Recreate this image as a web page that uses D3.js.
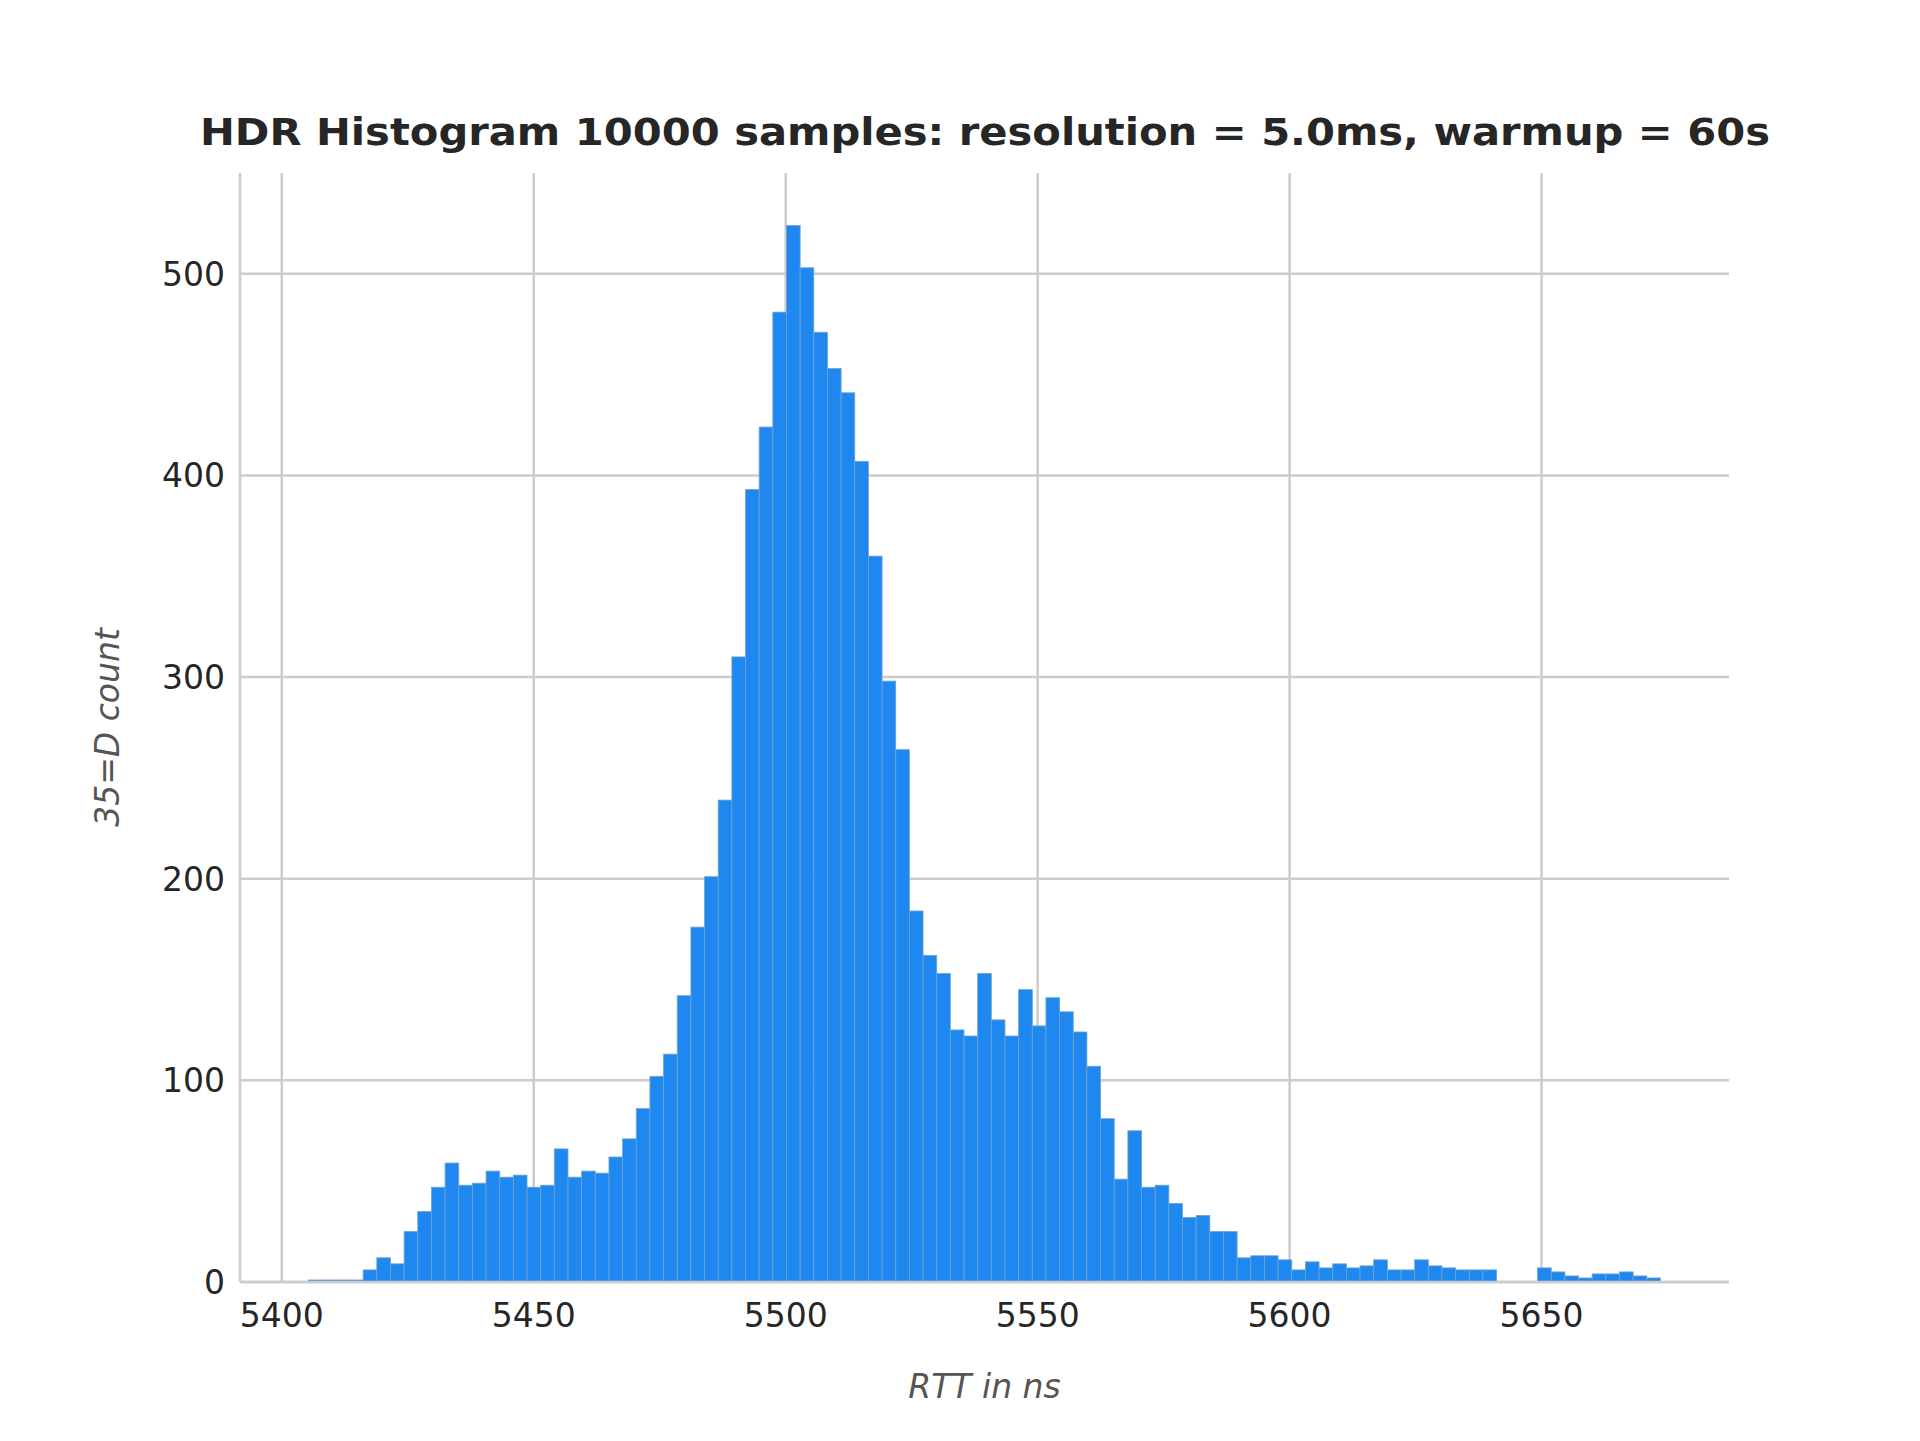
<!DOCTYPE html>
<html><head><meta charset="utf-8">
<script src="https://cdn.jsdelivr.net/npm/d3@7"></script>
<style>body{margin:0;background:#fff}svg{display:block}</style></head>
<body><script>
const binStart = 5405.3;
const binEnd = 5673.6;
const counts = [1,1,1,1,
 6,12,9,25,35,47,59,48,49,55,52,53,47,48,66,52,55,54,62,71,86,102,113,
 142,176,201,239,310,393,424,481,524,503,471,453,441,407,360,298,264,184,162,153,125,122,153,130,122,145,127,141,134,124,107,81,51,75,47,48,39,32,33,
 25,25,
 12,13,13,11,6,10,7,9,7,8,11,6,6,11,8,7,6,6,6,
 0,0,0,
 7,5,3,2,4,4,5,3,2];
const xTicks = [5400,5450,5500,5550,5600,5650];
const yTicks = [0,100,200,300,400,500];
const title = "HDR Histogram 10000 samples: resolution = 5.0ms, warmup = 60s";
const xLabel = "RTT in ns";
const yLabel = "35=D count";

const W=1920,H=1441, L=240,R=1729,T=173,B=1282;
const svg=d3.select("body").append("svg").attr("width",W).attr("height",H);
const x=d3.scaleLinear().domain([5391.7,5687.2]).range([L,R]);
const y=d3.scaleLinear().domain([0,550]).range([B,T]);
const font="DejaVu Sans";
// grid
svg.append("g").selectAll("line").data(xTicks).join("line")
 .attr("x1",d=>x(d)).attr("x2",d=>x(d)).attr("y1",T).attr("y2",B)
 .attr("stroke","#cccccc").attr("stroke-width",2.5);
svg.append("g").selectAll("line").data(yTicks).join("line")
 .attr("x1",L).attr("x2",R).attr("y1",d=>y(d)).attr("y2",d=>y(d))
 .attr("stroke","#cccccc").attr("stroke-width",2.5);
// bars
const bw=(binEnd-binStart)/counts.length;
svg.append("g").selectAll("rect").data(counts).join("rect")
 .attr("x",(d,i)=>x(binStart+i*bw)).attr("width",(d,i)=>x(binStart+(i+1)*bw)-x(binStart+i*bw))
 .attr("y",d=>y(d)).attr("height",d=>B-y(d))
 .attr("fill","#1e88f0").attr("stroke","#6fa3cf").attr("stroke-width",0.8);
// spines
svg.append("line").attr("x1",L).attr("x2",L).attr("y1",T).attr("y2",B).attr("stroke","#cccccc").attr("stroke-width",2.5);
svg.append("line").attr("x1",L).attr("x2",R).attr("y1",B).attr("y2",B).attr("stroke","#cccccc").attr("stroke-width",2.5);
// tick labels
svg.append("g").selectAll("text").data(xTicks).join("text")
 .attr("x",d=>x(d)).attr("y",B+45).attr("text-anchor","middle")
 .attr("font-family",font).attr("font-size",33).attr("fill","#262626").text(d=>d);
svg.append("g").selectAll("text").data(yTicks).join("text")
 .attr("x",L-15).attr("y",d=>y(d)+12).attr("text-anchor","end")
 .attr("font-family",font).attr("font-size",33).attr("fill","#262626").text(d=>d);
// labels
svg.append("text").attr("x",(L+R)/2).attr("y",1398).attr("text-anchor","middle")
 .attr("font-family",font).attr("font-size",33).attr("font-style","italic").attr("fill","#555").text(xLabel);
svg.append("text").attr("transform",`translate(119,${(T+B)/2}) rotate(-90)`).attr("text-anchor","middle")
 .attr("font-family",font).attr("font-size",33).attr("font-style","italic").attr("fill","#555").text(yLabel);
svg.append("text").attr("x",985).attr("y",145).attr("text-anchor","middle")
 .attr("font-family",font).attr("font-size",37).attr("font-weight","bold").attr("fill","#262626")
 .attr("textLength",1570).attr("lengthAdjust","spacingAndGlyphs").text(title);
</script></body></html>
